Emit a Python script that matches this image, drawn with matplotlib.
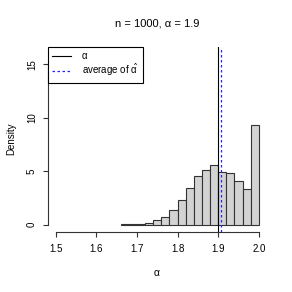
import matplotlib
matplotlib.use("Agg")
import matplotlib.pyplot as plt
import numpy as np

bin_edges = [1.66, 1.68, 1.70, 1.72, 1.74, 1.76, 1.78, 1.80, 1.82, 1.84,
             1.86, 1.88, 1.90, 1.92, 1.94, 1.96, 1.98, 2.00]
density = [0.04, 0.05, 0.1, 0.15, 0.4, 0.72, 1.4, 2.27, 3.45, 4.54,
           5.1, 5.6, 4.9, 4.82, 4.04, 3.36, 9.33]
alpha_true = 1.9
alpha_avg = 1.906
title = "n = 1000, α = 1.9"
xticks = [1.5, 1.6, 1.7, 1.8, 1.9, 2.0]
yticks = [0, 5, 10, 15]

plt.rcParams['font.family'] = ['Liberation Sans', 'DejaVu Sans']
plt.rcParams['mathtext.fontset'] = 'custom'
plt.rcParams['mathtext.rm'] = 'DejaVu Sans'
plt.rcParams['mathtext.it'] = 'DejaVu Sans'

fig = plt.figure(figsize=(2.92, 2.92), dpi=100)
W = H = 292
left, right, top, bottom = 47.5, 267.0, 46.6, 231.5
ax = fig.add_axes([left / W, 1 - bottom / H, (right - left) / W, (bottom - top) / H])

lefts = np.array(bin_edges[:-1])
widths = np.diff(bin_edges)
ax.bar(lefts, density, width=widths, align='edge', color='#D3D3D3',
       edgecolor='#333333', linewidth=0.8)

ax.set_xlim(1.48, 2.02)
ax.set_ylim(-0.64, 16.64)
ax.axvline(alpha_true, color='black', linewidth=0.8, label='α')
ax.axvline(alpha_avg, color='#2222ff', linewidth=0.9, linestyle=(0, (2, 2)),
           label=r'average of $\hat{\mathregular{α}}$')

for s in ['top', 'right']:
    ax.spines[s].set_visible(False)
ax.spines['left'].set_bounds(0, 15)
ax.spines['bottom'].set_bounds(1.5, 2.0)
for s in ['left', 'bottom']:
    ax.spines[s].set_linewidth(0.8)
    ax.spines[s].set_color('#333333')

ax.set_xticks(xticks)
ax.set_xticklabels([f"{v:.1f}" for v in xticks])
ax.set_yticks(yticks)
ax.set_yticklabels([str(v) for v in yticks], rotation=90, va='center')
ax.tick_params(length=3.6, width=0.8, labelsize=7, color='#333333')
ax.tick_params(axis='x', pad=5.5)
ax.tick_params(axis='y', pad=4.0)

fig.text(11.7 / W, 1 - 139 / H, 'Density', rotation=90, ha='center', va='center',
         fontsize=7)
fig.text(157 / W, 1 - 273 / H, 'α', ha='center', va='center', fontsize=7.5)
fig.text(157.5 / W, 1 - 23.7 / H, title, ha='center', va='center', fontsize=8)

leg = ax.legend(loc='upper left', borderaxespad=0, fontsize=7, fancybox=False,
                framealpha=1, edgecolor='black', handlelength=2.0,
                handletextpad=1.1, borderpad=0.45, labelspacing=0.1)
leg.get_frame().set_linewidth(0.8)

fig.savefig('out.png', dpi=100)
